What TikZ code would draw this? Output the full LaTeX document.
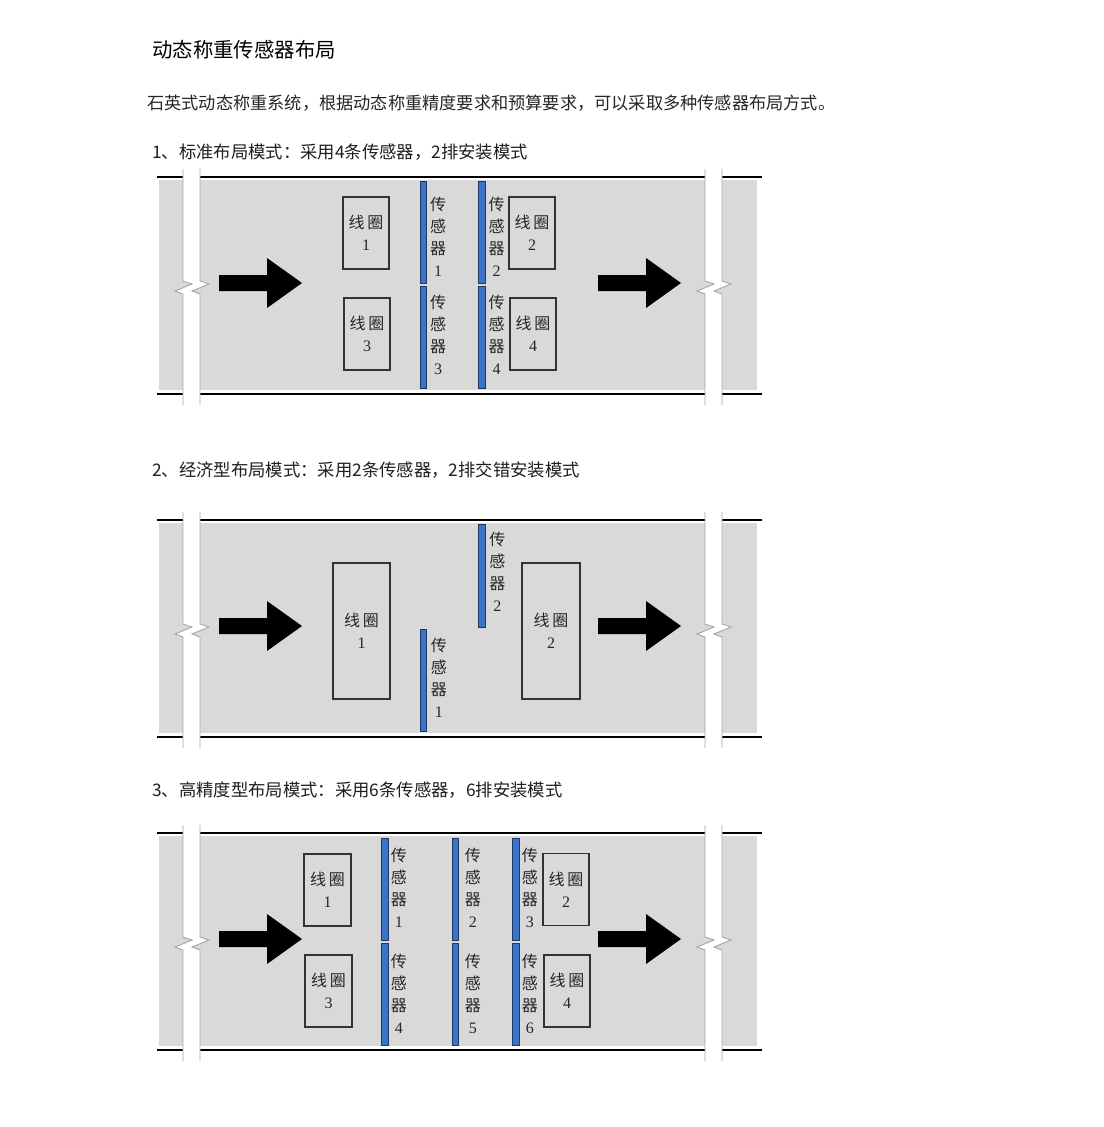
\documentclass[tikz,border=0pt]{standalone}
\usepackage{fontspec}
\setmainfont{Liberation Serif}
\newfontfamily\cjk{Noto Sans CJK SC}
\usetikzlibrary{positioning}

\definecolor{roadgray}{HTML}{D9D9D9}
\definecolor{sensorblue}{HTML}{3B73C6}
\definecolor{sensoredge}{HTML}{1F3864}
\definecolor{breakgray}{HTML}{A6A6A6}
\definecolor{textdark}{HTML}{1E1E1E}

\newcommand{\zh}[1]{{\cjk #1}}
\newcommand{\senstext}[1]{\zh{传}\\\zh{感}\\\zh{器}\\#1}
\newcommand{\coiltext}[1]{\zh{线\hspace{2pt}圈}\\#1}

\begin{document}
\begin{tikzpicture}[
    x=0.75pt, y=-0.75pt,
    roadline/.style={line width=1.4pt, black},
    breakedge/.style={line width=0.7pt, breakgray},
    coilbox/.style={
        draw=black!80,
        line width=0.9pt,
        rectangle,
        align=center,
        inner sep=0pt,
        text=black!85,
        font=\fontsize{12}{16.5}\selectfont,
        },
    sensorbar/.style={
        draw=sensoredge,
        fill=sensorblue,
        line width=0.7pt,
        minimum width=4.8pt,
        minimum height=77pt,
        inner sep=0pt,
        },
    senslabel/.style={
        align=center,
        inner sep=0pt,
        text=black!85,
        font=\fontsize{12}{16.5}\selectfont,
        },
    headtext/.style={anchor=west, inner sep=0pt, text=textdark, font=\cjk\fontsize{13}{15}\selectfont},
    pics/flowarrow/.style={code={
        \fill (0,-8) -- (48,-8) -- (48,-25) -- (83,0) -- (48,25) -- (48,8) -- (0,8) -- cycle;
        }},
    pics/roadbreak/.style={code={
        \fill[white] (0,-114) -- (0,-2) -- (9,1) -- (-8,8) -- (0,11) -- (0,122)
            -- (17,122) -- (17,11) -- (9,8) -- (26,1) -- (17,-2) -- (17,-114) -- cycle;
        \draw[breakedge] (0,-114) -- (0,-2) -- (9,1) -- (-8,8) -- (0,11) -- (0,122);
        \draw[breakedge] (17,-114) -- (17,-2) -- (26,1) -- (9,8) -- (17,11) -- (17,122);
        }},
]

\fill[white] (0,0) rectangle (1103,1127);
\useasboundingbox (0,0) rectangle (1103,1127);

% texts
\node[anchor=west, inner sep=0pt, text=black, font=\cjk\fontsize{15.3}{18}\selectfont] (title) at (152,50) {动态称重传感器布局};
\node[anchor=west, inner sep=0pt, text=black!85, font=\cjk\fontsize{12.9}{15}\selectfont] (intro) at (147,103)
    {石英式动态称重系统，根据动态称重精度要求和预算要求，可以采取多种传感器布局方式。};
\node[headtext] (head1) at (152,152) {1、标准布局模式：采用4条传感器，2排安装模式};
\node[headtext] (head2) at (152,470) {2、经济型布局模式：采用2条传感器，2排交错安装模式};
\node[headtext] (head3) at (152,790) {3、高精度型布局模式：采用6条传感器，6排安装模式};

% the three road sections
\foreach \dy in {0,343,656}{
    \begin{scope}[shift={(0,\dy)}]
        \fill[roadgray] (159,180) rectangle (757,390);
        \draw[roadline] (157,177) -- (762,177);
        \draw[roadline] (157,394) -- (762,394);
        \pic at (183,283) {roadbreak};
        \pic at (705,283) {roadbreak};
        \pic at (219,283) {flowarrow};
        \pic at (598,283) {flowarrow};
    \end{scope}
}

% 1: standard layout
\node[coilbox, minimum width=34.5pt, minimum height=54pt] (stdcoil1) at (366,233) {\coiltext{1}};
\node[coilbox, minimum width=34.5pt, minimum height=54pt] (stdcoil3) at (367,334) {\coiltext{3}};
\node[coilbox, minimum width=34.5pt, minimum height=54pt] (stdcoil2) at (532,233) {\coiltext{2}};
\node[coilbox, minimum width=34.5pt, minimum height=54pt] (stdcoil4) at (533,334) {\coiltext{4}};

\node[sensorbar] (stdsens1) at (423.5,232.5) {};
\node[sensorbar] (stdsens3) at (423.5,337.5) {};
\node[sensorbar] (stdsens2) at (482,232.5) {};
\node[sensorbar] (stdsens4) at (482,337.5) {};

\node[senslabel, below right=12pt and 2pt of stdsens1.north east] (stdlab1) {\senstext{1}};
\node[senslabel, below right=6.5pt and 2pt of stdsens3.north east] (stdlab3) {\senstext{3}};
\node[senslabel, below right=12pt and 2pt of stdsens2.north east] (stdlab2) {\senstext{2}};
\node[senslabel, below right=6.5pt and 2pt of stdsens4.north east] (stdlab4) {\senstext{4}};

% 2: economy layout
\node[coilbox, minimum width=42.75pt, minimum height=102pt] (ecocoil1) at (361.5,631) {\coiltext{1}};
\node[coilbox, minimum width=43.5pt, minimum height=102pt] (ecocoil2) at (551,631) {\coiltext{2}};

\node[sensorbar] (ecosens1) at (423.5,680.5) {};
\node[sensorbar] (ecosens2) at (482,576) {};

\node[senslabel, below right=7pt and 2.5pt of ecosens1.north east] (ecolab1) {\senstext{1}};
\node[senslabel, below right=5.5pt and 2.5pt of ecosens2.north east] (ecolab2) {\senstext{2}};

% 3: high precision layout
\node[coilbox, minimum width=35.25pt, minimum height=54pt] (hpcoil1) at (327.5,890) {\coiltext{1}};
\node[coilbox, minimum width=35.25pt, minimum height=54pt] (hpcoil3) at (328.5,991) {\coiltext{3}};
\node[coilbox, minimum width=34.5pt, minimum height=54pt] (hpcoil2) at (566,889.5) {\coiltext{2}};
\node[coilbox, minimum width=34.5pt, minimum height=54pt] (hpcoil4) at (567,991) {\coiltext{4}};

\node[sensorbar] (hpsens1) at (385,889.5) {};
\node[sensorbar] (hpsens4) at (385,994.5) {};
\node[sensorbar] (hpsens2) at (455.5,889.5) {};
\node[sensorbar] (hpsens5) at (455.5,994.5) {};
\node[sensorbar] (hpsens3) at (516,889.5) {};
\node[sensorbar] (hpsens6) at (516,994.5) {};

\node[senslabel, below right=7.5pt and 1.5pt of hpsens1.north east] (hplab1) {\senstext{1}};
\node[senslabel, below right=8.5pt and 1.5pt of hpsens4.north east] (hplab4) {\senstext{4}};
\node[senslabel, below right=7.5pt and 4pt of hpsens2.north east] (hplab2) {\senstext{2}};
\node[senslabel, below right=8.5pt and 4pt of hpsens5.north east] (hplab5) {\senstext{5}};
\node[senslabel, below right=7.5pt and 1.5pt of hpsens3.north east] (hplab3) {\senstext{3}};
\node[senslabel, below right=8.5pt and 1.5pt of hpsens6.north east] (hplab6) {\senstext{6}};

\end{tikzpicture}
\end{document}
